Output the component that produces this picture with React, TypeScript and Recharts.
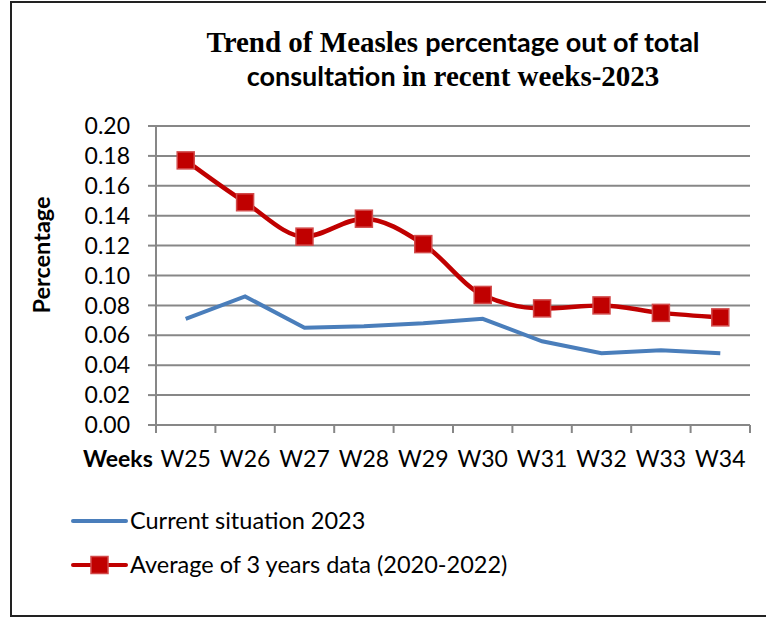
import React from "react";
import { LineChart, Line, XAxis, YAxis, CartesianGrid } from "recharts";

const weeks = ["W25", "W26", "W27", "W28", "W29", "W30", "W31", "W32", "W33", "W34"];
const current2023 = [0.071, 0.086, 0.065, 0.066, 0.068, 0.071, 0.056, 0.048, 0.05, 0.048];
const avg3Years = [0.177, 0.149, 0.126, 0.138, 0.121, 0.087, 0.078, 0.08, 0.075, 0.072];
const yTicks = [0, 0.02, 0.04, 0.06, 0.08, 0.1, 0.12, 0.14, 0.16, 0.18, 0.2];

const BLUE = "#4A7EBB";
const RED = "#C00000";
const GREY = "#878787";
const FONT = "Lato, 'Open Sans', sans-serif";

// weeks sit in the middle of each band, ticks on the band edges (like Excel)
const data = weeks.map((w, i) => ({ x: i + 0.5, week: w, current: current2023[i], avg: avg3Years[i] }));
const xTicks: number[] = [];
for (let i = 0; i <= weeks.length * 2; i++) xTicks.push(i / 2);

function XTick(props: any) {
  const { x, y, payload } = props;
  const v = payload.value;
  if (Number.isInteger(v)) {
    return <line x1={x} y1={y} x2={x} y2={y + 8} stroke={GREY} strokeWidth={2} />;
  }
  return (
    <text x={x} y={y + 42} textAnchor="middle" fontSize={23} fontFamily={FONT} fill="#000">
      {weeks[Math.floor(v)]}
    </text>
  );
}

function SquareDot(props: any) {
  const { cx, cy } = props;
  if (cx == null || cy == null) return null;
  return <rect x={cx - 8.5} y={cy - 8.5} width={17} height={17} fill={RED} stroke="#D24A4A" strokeWidth={1.5} />;
}

export default function App() {
  return (
    <div style={{ position: "absolute", left: 0, top: 0, width: 766, height: 621, background: "#fff", overflow: "hidden" }}>
      <div style={{ position: "absolute", left: 10, top: 1, width: 800, height: 616, border: "2px solid #222", boxSizing: "border-box" }} />
      <svg width={766} height={621} style={{ position: "absolute", left: 0, top: 0 }}>
        <text x={453} y={52} textAnchor="middle" fontWeight="bold" fontSize={29}>
          <tspan fontFamily="'Liberation Serif', serif">Trend of Measles </tspan>
          <tspan fontFamily={FONT} fontSize={27}>percentage out of total</tspan>
        </text>
        <text x={453} y={86} textAnchor="middle" fontWeight="bold" fontSize={29}>
          <tspan fontFamily={FONT} fontSize={27}>consultation </tspan>
          <tspan fontFamily="'Liberation Serif', serif">in recent weeks-2023</tspan>
        </text>
        <text x={50} y={255} transform="rotate(-90 50 255)" textAnchor="middle" fontWeight="bold" fontSize={23.5} fontFamily={FONT}>
          Percentage
        </text>
        <text x={83} y={467} fontWeight="bold" fontSize={23} fontFamily={FONT}>
          Weeks
        </text>
        <line x1={73} y1={521} x2={126} y2={521} stroke={BLUE} strokeWidth={4} strokeLinecap="round" />
        <text x={130} y={529} fontSize={23.5} fontFamily={FONT}>Current situation 2023</text>
        <line x1={73} y1={565} x2={126} y2={565} stroke={RED} strokeWidth={4} strokeLinecap="round" />
        <rect x={91} y={556.5} width={17} height={17} fill={RED} stroke="#D24A4A" strokeWidth={1.5} />
        <text x={130} y={573} fontSize={23.5} fontFamily={FONT}>Average of 3 years data (2020-2022)</text>
      </svg>
      <div style={{ position: "absolute", left: 0, top: 0 }}>
        <LineChart width={766} height={621} data={data} margin={{ top: 126, right: 16, bottom: 136, left: 76 }}>
          <CartesianGrid horizontal vertical={false} stroke={GREY} strokeWidth={2} />
          <XAxis
            dataKey="x"
            type="number"
            domain={[0, weeks.length]}
            ticks={xTicks}
            interval={0}
            height={60}
            tickSize={0}
            tickMargin={0}
            tickLine={false}
            tick={<XTick />}
            axisLine={{ stroke: GREY, strokeWidth: 2 }}
          />
          <YAxis
            type="number"
            domain={[0, 0.2]}
            ticks={yTicks}
            interval={0}
            width={80}
            tickSize={8}
            tickMargin={18}
            tickFormatter={(v: number) => v.toFixed(2)}
            tick={{ fontSize: 23, fontFamily: FONT, fill: "#000" }}
            tickLine={{ stroke: GREY, strokeWidth: 2 }}
            axisLine={{ stroke: GREY, strokeWidth: 2 }}
          />
          <Line dataKey="current" stroke={BLUE} strokeWidth={4} dot={false} type="linear" isAnimationActive={false} />
          <Line dataKey="avg" stroke={RED} strokeWidth={4.5} dot={<SquareDot />} type="monotone" isAnimationActive={false} />
        </LineChart>
      </div>
    </div>
  );
}
